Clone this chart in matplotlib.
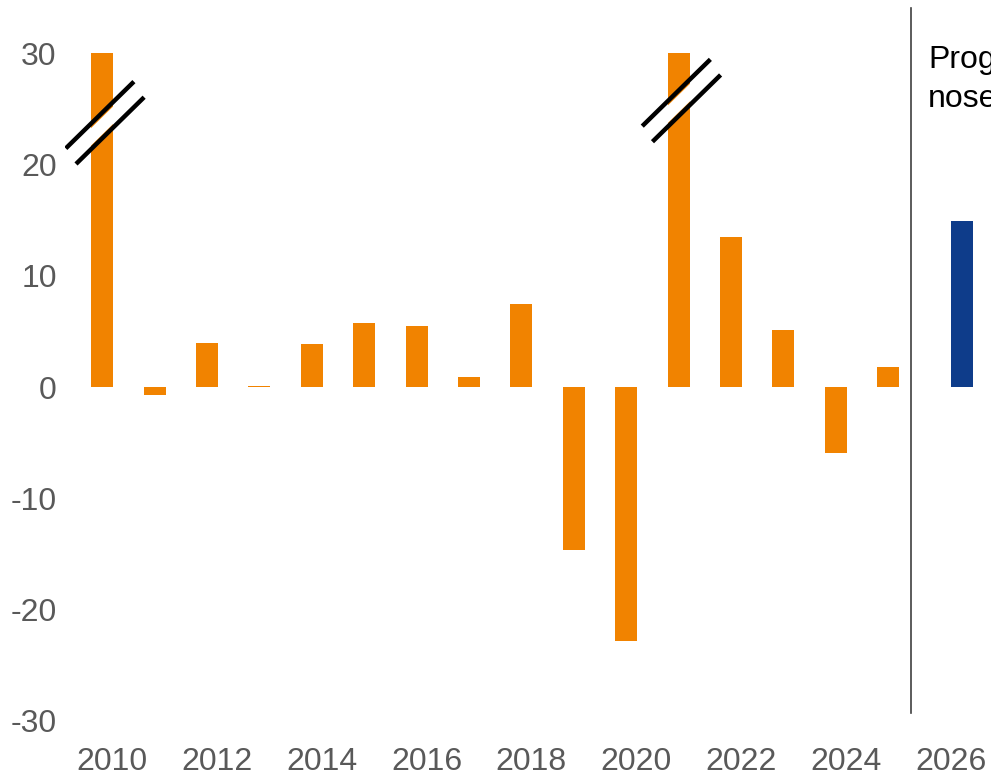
import numpy as np
import matplotlib
matplotlib.use("Agg")
import matplotlib.pyplot as plt

plt.rcParams["font.family"] = ["Liberation Sans", "DejaVu Sans"]

# data (2010 and 2021 are cut at 30 in the chart)
years = np.arange(2010, 2026)
values = [30, -0.7, 4.0, 0.1, 3.9, 5.8, 5.5, 0.9, 7.5, -14.6, -22.8, 30, 13.5, 5.1, -5.9, 1.8]
forecast_year = 2026
forecast_value = 14.9
broken_years = [2010, 2021]
break_levels = [23.8, 25.8]
tick_years = np.arange(2010, 2027, 2)
y_ticks = [-30, -20, -10, 0, 10, 20, 30]

ORANGE = "#F18300"
BLUE = "#0E3C8A"
GREY = "#595959"


def break_mark(ax, x, y):
    # white gap with two black slashes across a clipped bar
    dx, dy = 0.65, 3.0
    ax.plot([x - dx + 0.05, x + dx + 0.05], [y - dy - 0.1, y + dy - 0.1],
            color="white", lw=9, solid_capstyle="butt", zorder=3)
    for ox, oy in [(-0.045, 0.65), (0.15, -0.75)]:
        ax.plot([x - dx + ox, x + dx + ox], [y - dy + oy, y + dy + oy],
                color="black", lw=3.2, solid_capstyle="butt", zorder=4)


def main():
    fig = plt.figure(figsize=(9.91, 7.75), dpi=100)
    ax = fig.add_axes([65 / 991, 0.0626, 1 - 65 / 991, 0.929])

    ax.bar(years, values, width=0.42, color=ORANGE, zorder=2)
    ax.bar(forecast_year + 0.4, forecast_value, width=0.42, color=BLUE, zorder=2)

    for yr, lvl in zip(broken_years, break_levels):
        break_mark(ax, yr, lvl)

    # separator between history and forecast
    ax.plot([2025.44, 2025.44], [-29.3, 34.05], color="#404040", lw=1.2, zorder=1)
    # label runs off the right edge, as in the original
    ax.text(2025.76, 30.7, "Prog-\nnose", fontsize=23, color="black",
            va="top", ha="left", linespacing=1.36, clip_on=False)

    ax.set_xlim(2009.29, 2026.96)
    ax.set_ylim(-30.5, 34.2)

    ax.set_yticks(y_ticks)
    ax.set_yticklabels([str(t) for t in y_ticks])
    ax.set_xticks(tick_years + 0.19)
    ax.set_xticklabels([str(t) for t in tick_years])
    ax.tick_params(axis="both", length=0, labelsize=23, colors=GREY)
    ax.tick_params(axis="y", pad=6)
    ax.tick_params(axis="x", pad=15)

    for side in ax.spines.values():
        side.set_visible(False)

    fig.savefig("out.png", dpi=100)


if __name__ == "__main__":
    main()
